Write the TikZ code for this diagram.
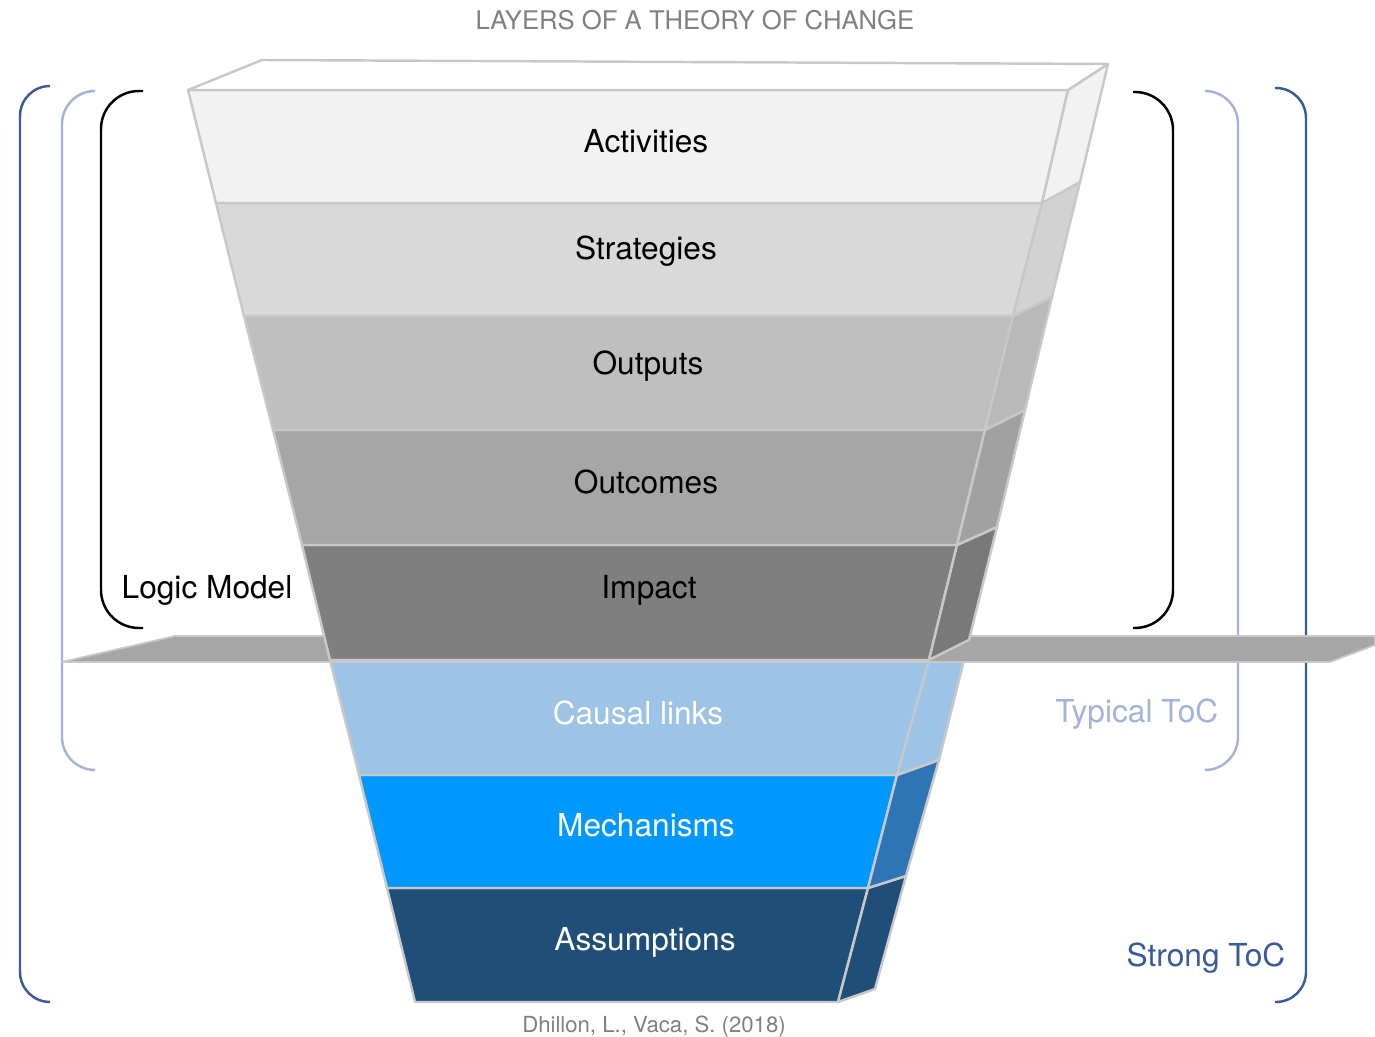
\documentclass[tikz,border=0pt]{standalone}
\usepackage{fontspec}
\setmainfont{TeX Gyre Heros}
\usetikzlibrary{positioning}
\definecolor{bordo}{HTML}{C8C8C8}
\definecolor{cAct}{HTML}{F2F2F2}
\definecolor{cStr}{HTML}{D9D9D9}
\definecolor{cOutp}{HTML}{BFBFBF}
\definecolor{cOutc}{HTML}{A6A6A6}
\definecolor{cImp}{HTML}{7F7F7F}
\definecolor{cCaus}{HTML}{9DC3E6}
\definecolor{cMech}{HTML}{0098FF}
\definecolor{cMechS}{HTML}{2E75B6}
\definecolor{cAss}{HTML}{1F4E79}
\definecolor{cPiano}{HTML}{A6A6A6}
\definecolor{cTyp}{HTML}{A5B3DB}
\definecolor{cStrong}{HTML}{3A5A9B}
\definecolor{cTitolo}{HTML}{808080}

\begin{document}
\begin{tikzpicture}[x=0.01cm, y=-0.01cm,
			faccia/.style={draw=bordo, line width=0.7pt, line join=round},
			etichetta/.style={font=\fontsize{9}{11}\selectfont, inner sep=0pt},
			parentesi/.style={line width=0.7pt, rounded corners=0.38cm}]
			
			\useasboundingbox (0,0) rectangle (1375,1037);
			
			% Titolo e fonte
			\node[font=\fontsize{7.3}{9}\selectfont, text=cTitolo] (titolo) at (695,20) {LAYERS OF A THEORY OF CHANGE};
			\node[font=\fontsize{6.3}{8}\selectfont, text=cTitolo] (fonte) at (654,1027) {Dhillon, L., Vaca, S. (2018)};
			
			% --- Parentesi ---
			\draw[parentesi, rounded corners=0.3cm, cStrong] (50,86) -- (20,86) -- (20,1002) -- (50,1002);
			\draw[parentesi, rounded corners=0.3cm, cStrong] (1275,88) -- (1306,88) -- (1306,1002) -- (1275,1002);
			\draw[parentesi, rounded corners=0.33cm, cTyp] (95,91) -- (62,91) -- (62,770) -- (95,770);
			\draw[parentesi, rounded corners=0.33cm, cTyp] (1205,91) -- (1238,91) -- (1238,770) -- (1205,770);
			\draw[parentesi, black] (143,91) -- (101,91) -- (101,628) -- (143,628);
			\draw[parentesi, black] (1133,92) -- (1173,92) -- (1173,628) -- (1133,628);
			
			% --- Strati sotto il piano ---
			% Assumptions
			\filldraw[faccia, fill=cAss] (387,888) -- (868,888) -- (838,1002) -- (415,1002) -- cycle;
			\filldraw[faccia, fill=cAss] (868,888) -- (906,876) -- (875,989) -- (838,1002) -- cycle;
			% Mechanisms
			\filldraw[faccia, fill=cMech] (359,775) -- (897,775) -- (868,888) -- (387,888) -- cycle;
			\filldraw[faccia, fill=cMechS] (897,775) -- (939,760) -- (906,876) -- (868,888) -- cycle;
			% Causal links
			\filldraw[faccia, fill=cCaus] (330,660) -- (929,660) -- (897,775) -- (359,775) -- cycle;
			\filldraw[faccia, fill=cCaus] (929,660) -- (969,640) -- (939,760) -- (897,775) -- cycle;
			
			% Piano grigio
			\filldraw[fill=cPiano, draw=bordo, line width=0.5pt, line join=round]
				(62,662) -- (175,636) -- (1375,636) -- (1375,645) -- (1330,662) -- cycle;
			
			% --- Strati sopra il piano ---
			% Impact
			\filldraw[faccia, fill=cImp] (302,545) -- (957,545) -- (929,660) -- (330,660) -- cycle;
			\filldraw[faccia, fill=cImp!95!black] (957,545) -- (997,527) -- (969,640) -- (929,660) -- cycle;
			% Outcomes
			\filldraw[faccia, fill=cOutc] (273,430) -- (985,430) -- (957,545) -- (302,545) -- cycle;
			\filldraw[faccia, fill=cOutc!97!black] (985,430) -- (1025,410) -- (997,527) -- (957,545) -- cycle;
			% Outputs
			\filldraw[faccia, fill=cOutp] (244,316) -- (1013,316) -- (985,430) -- (273,430) -- cycle;
			\filldraw[faccia, fill=cOutp!97!black] (1013,316) -- (1052,297) -- (1025,410) -- (985,430) -- cycle;
			% Strategies
			\filldraw[faccia, fill=cStr] (216,203) -- (1042,203) -- (1013,316) -- (244,316) -- cycle;
			\filldraw[faccia, fill=cStr!97!black] (1042,203) -- (1080,182) -- (1052,297) -- (1013,316) -- cycle;
			% Activities
			\filldraw[faccia, fill=cAct] (188,90) -- (1068,90) -- (1042,203) -- (216,203) -- cycle;
			\filldraw[faccia, fill=cAct] (1068,90) -- (1108,64) -- (1080,182) -- (1042,203) -- cycle;
			\filldraw[faccia, fill=white] (188,90) -- (262,60) -- (1108,64) -- (1068,90) -- cycle;
			
			% --- Etichette degli strati ---
			\node[etichetta] (act) at (646,141) {Activities};
			\node[etichetta] (str) at (646,251) {Strategies};
			\node[etichetta] (outp) at (648,366) {Outputs};
			\node[etichetta] (outc) at (646,482) {Outcomes};
			\node[etichetta] (imp) at (649,590) {Impact};
			\node[etichetta, text=white] (caus) at (638,713) {Causal links};
			\node[etichetta, text=white] (mech) at (646,825) {Mechanisms};
			\node[etichetta, text=white] (ass) at (645,942) {Assumptions};
			
			% Nomi dei livelli
			\node[etichetta, anchor=west] (logic) at (121,590) {Logic Model};
			\node[etichetta, anchor=east, text=cTyp] (typical) at (1219,714) {Typical ToC};
			\node[etichetta, anchor=east, text=cStrong] (strong) at (1286,958) {Strong ToC};
		\end{tikzpicture}
\end{document}
